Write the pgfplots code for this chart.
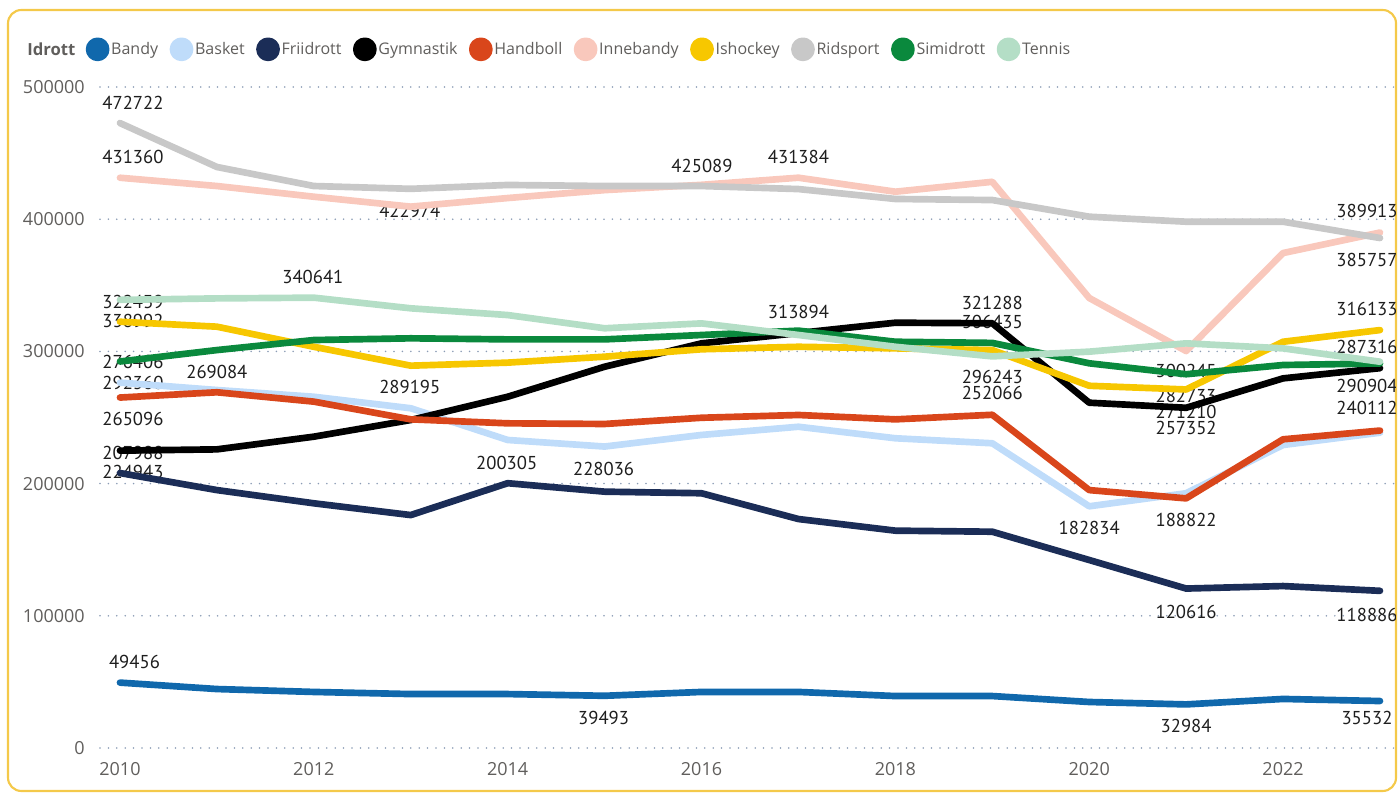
\documentclass[border=0pt]{standalone}
\usepackage{fontspec}
\setmainfont{Open Sans}
\newfontfamily\dlfont{PT Sans}
\usepackage{pgfplots}
\pgfplotsset{compat=1.18}
\definecolor{cBandy}{HTML}{1068AC}
\definecolor{cBasket}{HTML}{BFDCFA}
\definecolor{cFrii}{HTML}{1B2D57}
\definecolor{cGym}{HTML}{000000}
\definecolor{cHand}{HTML}{D9461B}
\definecolor{cInne}{HTML}{F9C8BC}
\definecolor{cIsh}{HTML}{F7C700}
\definecolor{cRid}{HTML}{C8C8C8}
\definecolor{cSim}{HTML}{0A893D}
\definecolor{cTen}{HTML}{B4DEC6}
\definecolor{frame}{HTML}{F4C94A}
\definecolor{tickc}{HTML}{605E5C}
\definecolor{lblc}{HTML}{1E1E1E}
\definecolor{gridc}{HTML}{8A9BB4}
\tikzset{lbl/.style={inner sep=0pt, text=lblc, font=\dlfont\fontsize{14}{16}\selectfont}}
\begin{document}
\begin{tikzpicture}[x=0.75pt,y=0.75pt]
\useasboundingbox (0,0) rectangle (1399,793);
\draw[frame, line width=1.6pt, rounded corners=10pt] (8,783) rectangle (1396,2);
\node[anchor=west, inner sep=0pt, text=tickc, font=\fontsize{12.5}{15}\selectfont\bfseries] at (27,744) {Idrott};
\begin{axis}[
  at={(75pt,33.75pt)}, anchor=south west, scale only axis,
  width=971.25pt, height=495.75pt,
  xmin=2009.794, xmax=2023.155, ymin=0, ymax=500000,
  axis line style={draw=none}, tick style={draw=none},
  ytick={0,100000,200000,300000,400000,500000},
  yticklabels={0,100000,200000,300000,400000,500000},
  xtick={2010,2012,2014,2016,2018,2020,2022},
  xticklabels={2010,2012,2014,2016,2018,2020,2022},
  scaled y ticks=false,
  ymajorgrids,
  grid style={gridc, line width=1.3pt, line cap=round, dash pattern=on 0pt off 6.3pt},
  yticklabel style={inner sep=0pt, xshift=-11.25pt, text=tickc, font=\fontsize{13.5}{16}\selectfont},
  xticklabel style={inner sep=0pt, yshift=-10.5pt, text=tickc, font=\fontsize{13.5}{16}\selectfont},
  legend columns=-1,
  legend style={draw=none, fill=none, at={(-0.0112,1.057)}, anchor=west, inner sep=0pt,
    font=\fontsize{12}{15}\selectfont, text=tickc,
    nodes={inner sep=0pt},
    /tikz/every even column/.append style={column sep=8.6pt},
    /tikz/every odd column/.append style={column sep=1.3pt}},
  legend image code/.code={\fill[#1] (0,0) circle (6.4pt);},
  every axis plot/.append style={line width=5pt, line join=round, line cap=round},
]
\node[lbl] at (axis cs:2010.134,487900) {472722};
\node[lbl] at (axis cs:2010.134,447000) {431360};
\node[lbl] at (axis cs:2011.99,356300) {340641};
\node[lbl] at (axis cs:2010.134,337400) {322439};
\node[lbl] at (axis cs:2010.134,323000) {338992};
\node[lbl] at (axis cs:2010.134,292000) {276406};
\node[lbl] at (axis cs:2011.0,284400) {269084};
\node[lbl] at (axis cs:2010.134,276100) {292360};
\node[lbl] at (axis cs:2012.99,273100) {289195};
\node[lbl] at (axis cs:2010.134,248900) {265096};
\node[lbl] at (axis cs:2010.134,223100) {207988};
\node[lbl] at (axis cs:2010.134,208800) {224943};
\node[lbl] at (axis cs:2013.99,215600) {200305};
\node[lbl] at (axis cs:2014.99,211000) {228036};
\node[lbl] at (axis cs:2012.99,406200) {422974};
\node[lbl] at (axis cs:2016.005,440200) {425089};
\node[lbl] at (axis cs:2017.0,447000) {431384};
\node[lbl] at (axis cs:2017.0,329800) {313894};
\node[lbl] at (axis cs:2019.0,336600) {321288};
\node[lbl] at (axis cs:2019.0,322200) {306435};
\node[lbl] at (axis cs:2019.0,280600) {296243};
\node[lbl] at (axis cs:2019.0,268500) {252066};
\node[lbl] at (axis cs:2022.866,406200) {389913};
\node[lbl] at (axis cs:2022.866,369100) {385757};
\node[lbl] at (axis cs:2022.866,332100) {316133};
\node[lbl] at (axis cs:2022.866,303300) {287316};
\node[lbl] at (axis cs:2022.866,273800) {290904};
\node[lbl] at (axis cs:2022.866,257200) {240112};
\node[lbl] at (axis cs:2021.0,285200) {300245};
\node[lbl] at (axis cs:2021.0,266300) {282733};
\node[lbl] at (axis cs:2021.0,254200) {271210};
\node[lbl] at (axis cs:2021.0,242000) {257352};
\node[lbl] at (axis cs:2020.0,166400) {182834};
\node[lbl] at (axis cs:2021.0,172500) {188822};
\node[lbl] at (axis cs:2021.0,102900) {120616};
\node[lbl] at (axis cs:2022.866,100600) {118886};
\node[lbl] at (axis cs:2010.15,65100) {49456};
\node[lbl] at (axis cs:2014.99,22700) {39493};
\node[lbl] at (axis cs:2021.0,16600) {32984};
\node[lbl] at (axis cs:2022.866,22700) {35532};
\addplot[cBandy] coordinates {(2010,49456)(2011,44600)(2012,42400)(2013,40800)(2014,40800)(2015,39493)(2016,42400)(2017,42400)(2018,39300)(2019,39300)(2020,34800)(2021,32984)(2022,37100)(2023,35532)};
\addlegendentry{Bandy}
\addplot[cBasket] coordinates {(2010,276406)(2011,270800)(2012,265700)(2013,257000)(2014,233000)(2015,228036)(2016,236800)(2017,243000)(2018,234300)(2019,230500)(2020,182834)(2021,192700)(2022,229200)(2023,238500)};
\addlegendentry{Basket}
\addplot[cFrii] coordinates {(2010,207988)(2011,195100)(2012,185100)(2013,176200)(2014,200305)(2015,193900)(2016,192700)(2017,173200)(2018,164400)(2019,163600)(2020,142200)(2021,120616)(2022,122500)(2023,118886)};
\addlegendentry{Friidrott}
\addplot[cGym] coordinates {(2010,224943)(2011,225900)(2012,235500)(2013,248100)(2014,265700)(2015,288400)(2016,306100)(2017,313894)(2018,321700)(2019,321288)(2020,261200)(2021,257352)(2022,279600)(2023,287316)};
\addlegendentry{Gymnastik}
\addplot[cHand] coordinates {(2010,265096)(2011,269084)(2012,262000)(2013,248600)(2014,245600)(2015,245100)(2016,249800)(2017,251900)(2018,248600)(2019,252066)(2020,195100)(2021,188822)(2022,233500)(2023,240112)};
\addlegendentry{Handboll}
\addplot[cInne] coordinates {(2010,431360)(2011,425100)(2012,417000)(2013,409500)(2014,416000)(2015,422000)(2016,426000)(2017,431384)(2018,420800)(2019,428300)(2020,340400)(2021,300245)(2022,374400)(2023,389913)};
\addlegendentry{Innebandy}
\addplot[cIsh] coordinates {(2010,322439)(2011,318700)(2012,303500)(2013,289195)(2014,291500)(2015,296000)(2016,301600)(2017,303500)(2018,302300)(2019,301000)(2020,274000)(2021,271210)(2022,307300)(2023,316133)};
\addlegendentry{Ishockey}
\addplot[cRid] coordinates {(2010,472722)(2011,439500)(2012,425100)(2013,422974)(2014,425900)(2015,425100)(2016,425089)(2017,422800)(2018,415300)(2019,414500)(2020,401900)(2021,398100)(2022,398100)(2023,385757)};
\addlegendentry{Ridsport}
\addplot[cSim] coordinates {(2010,292360)(2011,301000)(2012,308600)(2013,309900)(2014,309100)(2015,309100)(2016,312400)(2017,315700)(2018,307300)(2019,306435)(2020,291000)(2021,282733)(2022,289700)(2023,290904)};
\addlegendentry{Simidrott}
\addplot[cTen] coordinates {(2010,338992)(2011,340100)(2012,340641)(2013,332600)(2014,327500)(2015,317500)(2016,321200)(2017,312400)(2018,303500)(2019,296243)(2020,299800)(2021,306100)(2022,302300)(2023,292200)};
\addlegendentry{Tennis}
\end{axis}
\end{tikzpicture}
\end{document}
